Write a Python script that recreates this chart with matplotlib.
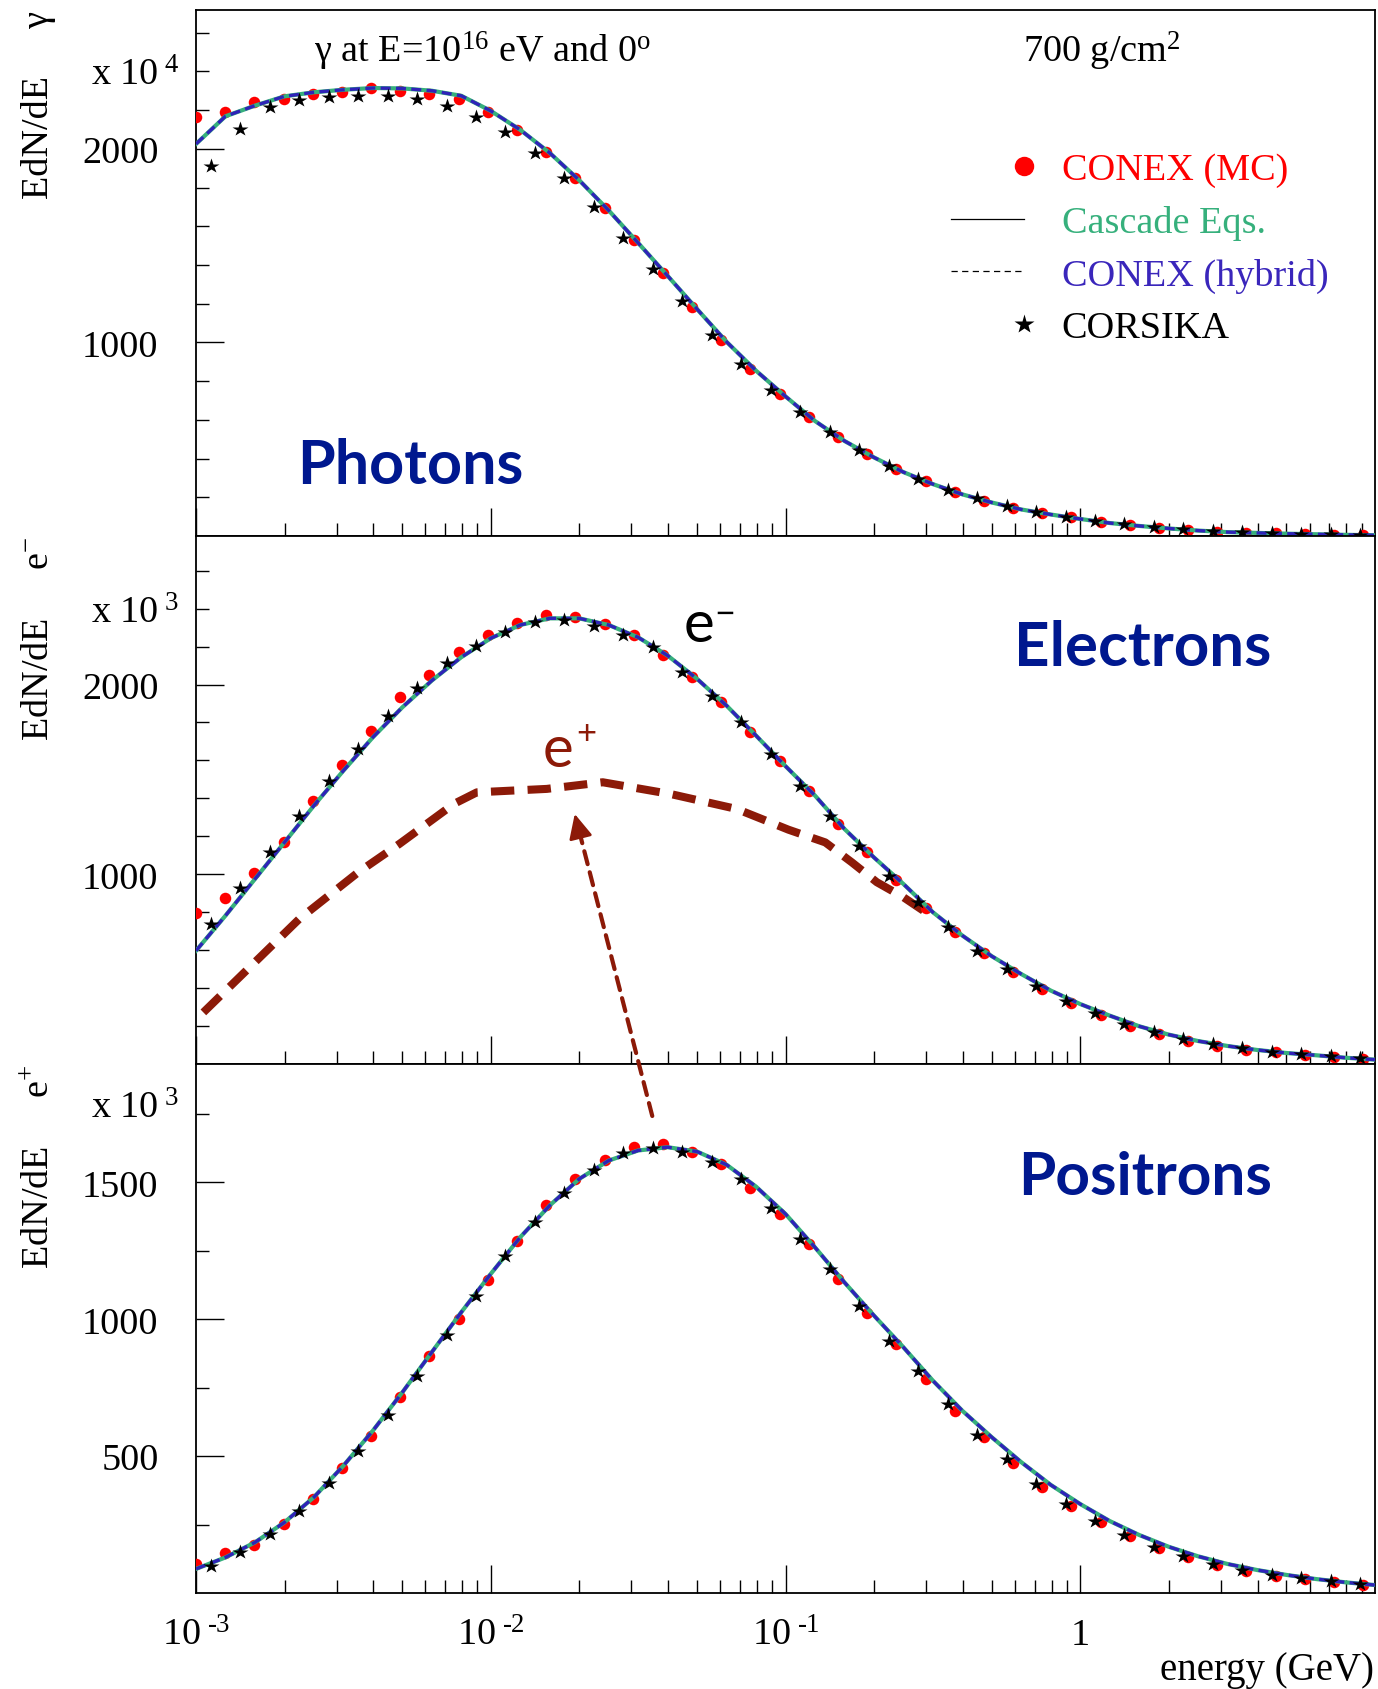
import numpy as np
import matplotlib
matplotlib.use("Agg")
import matplotlib.pyplot as plt
from matplotlib.lines import Line2D
from matplotlib.legend_handler import HandlerLine2DCompound
from matplotlib.patches import ConnectionPatch
from matplotlib.ticker import FixedLocator, LogLocator, FixedFormatter, NullFormatter

plt.rcParams['font.family'] = ['Liberation Serif', 'DejaVu Serif']
plt.rcParams['mathtext.fontset'] = 'custom'
plt.rcParams['mathtext.rm'] = 'Liberation Serif'
plt.rcParams['mathtext.it'] = 'Liberation Serif:italic'
plt.rcParams['mathtext.bf'] = 'Liberation Serif:bold'

# ---------------- data ----------------
E_CURVE = np.logspace(-3, 1, 41)          # cascade-equation grid (GeV)
E_MC = np.logspace(-3, 0.96, 41)          # CONEX (MC) bins
E_CORSIKA = np.logspace(-2.95, 0.95, 40)  # CORSIKA bins

GAMMA_CASCADE = [2025, 2168, 2223, 2271, 2292, 2305, 2314, 2312, 2300, 2274, 2196,
                 2098, 1979, 1838, 1682, 1514, 1344, 1172, 1003, 854, 721,
                 594, 491, 406, 330, 268, 215, 173, 137, 111, 88,
                 67, 52, 39, 28, 20, 16, 12, 9, 6, 4]
GAMMA_HYBRID = list(GAMMA_CASCADE)
GAMMA_MC = [2162, 2192, 2240, 2257, 2281, 2292, 2312, 2300, 2283, 2257, 2192,
            2097, 1985, 1847, 1696, 1529, 1357, 1181, 1012, 863, 733,
            616, 510, 424, 346, 282, 226, 183, 145, 117, 96,
            71, 57, 43, 31, 22, 17, 14, 10, 7, 5]
GAMMA_CORSIKA = [1913, 2102, 2214, 2252, 2266, 2274, 2271, 2257, 2219, 2166,
                 2085, 1977, 1851, 1701, 1539, 1379, 1212, 1038, 887, 754,
                 642, 535, 444, 363, 294, 239, 195, 153, 122, 100,
                 76, 60, 48, 36, 26, 21, 15, 12, 9, 7]

ELEC_CASCADE = [597, 782, 975, 1168, 1362, 1546, 1722, 1880, 2021, 2144, 2244,
                2314, 2349, 2349, 2314, 2249, 2153, 2030, 1889, 1731, 1570,
                1415, 1239, 1089, 949, 800, 677, 568, 474, 387, 316,
                255, 199, 155, 121, 95, 74, 58, 46, 33, 23]
ELEC_HYBRID = list(ELEC_CASCADE)
ELEC_MC = [794, 875, 1007, 1169, 1385, 1578, 1757, 1933, 2051, 2170, 2261,
           2323, 2367, 2355, 2319, 2261, 2156, 2042, 1907, 1752, 1595,
           1441, 1265, 1116, 972, 821, 694, 585, 483, 395, 322,
           258, 202, 158, 123, 97, 76, 62, 47, 35, 26]
ELEC_CORSIKA = [738, 926, 1116, 1309, 1494, 1660, 1836, 1980, 2112, 2205,
                2279, 2328, 2342, 2307, 2261, 2200, 2068, 1942, 1805, 1634,
                1467, 1309, 1147, 989, 852, 720, 597, 501, 409, 334,
                269, 211, 167, 132, 105, 83, 65, 51, 40, 30]

POS_CASCADE = [88, 130, 185, 258, 350, 465, 593, 733, 880, 1026, 1166,
               1300, 1416, 1513, 1580, 1617, 1629, 1613, 1565, 1485, 1385,
               1263, 1135, 1014, 898, 776, 666, 569, 478, 395, 325,
               263, 212, 169, 134, 106, 84, 66, 51, 39, 29]
POS_HYBRID = list(POS_CASCADE)
POS_MC = [106, 145, 177, 252, 344, 457, 575, 718, 867, 1001, 1145,
          1288, 1416, 1513, 1584, 1629, 1641, 1613, 1568, 1479, 1385,
          1276, 1148, 1023, 910, 782, 666, 569, 474, 386, 319,
          258, 207, 163, 130, 102, 82, 63, 51, 39, 29]
POS_CORSIKA = [97, 149, 216, 301, 402, 520, 651, 794, 941, 1084,
               1230, 1355, 1461, 1546, 1607, 1625, 1611, 1574, 1511, 1406,
               1294, 1184, 1050, 920, 810, 691, 577, 490, 398, 325,
               264, 212, 167, 134, 106, 85, 66, 54, 43, 33]

# hand-drawn e+ sketch overlaid on the electron panel
EPLUS_SKETCH_E = [10**-2.975, 10**-2.65, 10**-2.45, 10**-2.31, 10**-2.125, 10**-2.047,
                  10**-1.81, 10**-1.62, 10**-1.39, 10**-1.165, 10**-0.99, 10**-0.865,
                  10**-0.775, 10**-0.69, 10**-0.60, 10**-0.516]
EPLUS_SKETCH_V = [272, 764, 1010, 1160, 1371, 1432, 1450, 1485, 1423, 1344, 1235,
                  1168, 1063, 958, 879, 791]

XTICKS = [1e-3, 1e-2, 1e-1, 1]
XTICK_LABELS = [r'$\mathrm{10}^{\ \text{-3}}$', r'$\mathrm{10}^{\ \text{-2}}$',
                r'$\mathrm{10}^{\ \text{-1}}$', '1']

LEGEND_LABELS = ['CONEX (MC)', 'Cascade Eqs.', 'CONEX (hybrid)', 'CORSIKA']

# ---------------- style ----------------
RED = '#ff0000'
GREEN = '#36b07c'
BLUE = '#2f23b8'
DARKRED = '#8c1a08'
NAVY = '#00188f'
LEG_COLORS = [RED, GREEN, '#3a26bb', 'black']

W, H = 1378, 1690
fig = plt.figure(figsize=(W / 100, H / 100), dpi=100)


def px_axes(x0, y0, x1, y1):
    return fig.add_axes([x0 / W, 1 - y1 / H, (x1 - x0) / W, (y1 - y0) / H])


ax_top = px_axes(196, 11, 1375, 537)
ax_mid = px_axes(196, 537, 1375, 1065)
ax_bot = px_axes(196, 1065, 1375, 1594)

panels = [
    (ax_top, GAMMA_CASCADE, GAMMA_HYBRID, GAMMA_MC, GAMMA_CORSIKA, 2717,
     [1000, 2000], [v for v in range(200, 2800, 200) if v % 1000]),
    (ax_mid, ELEC_CASCADE, ELEC_HYBRID, ELEC_MC, ELEC_CORSIKA, 2783,
     [1000, 2000], [v for v in range(200, 2800, 200) if v % 1000]),
    (ax_bot, POS_CASCADE, POS_HYBRID, POS_MC, POS_CORSIKA, 1933,
     [500, 1000, 1500], [250, 750, 1250, 1750]),
]

for ax, cas, hyb, mc, cors, ymax, ymaj, ymin in panels:
    ax.set_xscale('log')
    ax.set_xlim(1e-3, 1e1)
    ax.set_ylim(0, ymax)
    ax.plot(E_MC, mc, ls='none', marker='o', color=RED, ms=8.3, mec='none', zorder=3)
    ax.plot(E_CURVE, cas, '-', color=GREEN, lw=3.0, zorder=4)
    ax.plot(E_CURVE, hyb, color=BLUE, lw=2.4, ls=(0, (3, 1.6)), zorder=5)
    ax.plot(E_CORSIKA, cors, ls='none', marker='*', color='black', ms=11.5, mec='none', zorder=6)

    ax.xaxis.set_major_locator(FixedLocator(XTICKS))
    ax.xaxis.set_minor_locator(LogLocator(base=10, subs=np.arange(2, 10), numticks=20))
    ax.xaxis.set_minor_formatter(NullFormatter())
    ax.yaxis.set_major_locator(FixedLocator(ymaj))
    ax.yaxis.set_minor_locator(FixedLocator(ymin))
    ax.tick_params(which='both', direction='in', top=False, right=False)
    ax.tick_params(which='major', length=20, width=1.0)
    ax.tick_params(which='minor', length=9.6, width=1.0)
    ax.tick_params(axis='y', labelsize=27.5, pad=27)
    for s in ax.spines.values():
        s.set_linewidth(1.3)
    if ax is ax_bot:
        ax.xaxis.set_major_formatter(FixedFormatter(XTICK_LABELS))
        ax.tick_params(axis='x', labelsize=27.5, pad=37)
    else:
        ax.xaxis.set_major_formatter(NullFormatter())

for lbl in ax_bot.get_xticklabels():
    lbl.set_verticalalignment('baseline')

# e+ sketch on the electron panel
ax_mid.plot(EPLUS_SKETCH_E, EPLUS_SKETCH_V, color=DARKRED, lw=5.8,
            ls=(0, (2.9, 1.65)), zorder=2, solid_capstyle='butt')

# arrow from positron peak to sketch
TIP = (10**-1.715, 1318)       # in electron panel data coords
TAIL = (10**-1.452, 1743)      # in positron panel data coords
con = ConnectionPatch(xyA=TAIL, coordsA=ax_bot.transData, xyB=TIP, coordsB=ax_mid.transData,
                      arrowstyle='-', color=DARKRED, lw=3.0, linestyle=(0, (3.2, 2.0)),
                      shrinkA=0, shrinkB=12, zorder=7)
fig.add_artist(con)
ax_mid.annotate('', xy=TIP, xycoords='data', xytext=(3.0, -12), textcoords='offset points',
                arrowprops=dict(arrowstyle='-|>,head_length=0.75,head_width=0.36',
                                color=DARKRED, lw=2.0, mutation_scale=20,
                                shrinkA=0, shrinkB=0), zorder=8)

# ---------------- texts ----------------
serif = 'Liberation Serif'
ax_top.text(0.2434, 0.902, r'γ at E=10$^{16}$ eV and 0$^{\mathrm{o}}$', transform=ax_top.transAxes,
            ha='center', va='baseline', fontsize=27.5, family=serif)
ax_top.text(0.7014, 0.902, r'700 g/cm$^{2}$', transform=ax_top.transAxes,
            ha='left', va='baseline', fontsize=27.5, family=serif)

sans = ['Lato', 'DejaVu Sans']
ax_top.text(0.0857, 0.1008, 'Photons', transform=ax_top.transAxes, ha='left', va='baseline',
            fontsize=44, fontweight='bold', family=sans, color=NAVY)
ax_mid.text(0.6938, 0.7557, 'Electrons', transform=ax_mid.transAxes, ha='left', va='baseline',
            fontsize=44.5, fontweight='bold', family=sans, color=NAVY)
ax_bot.text(0.6972, 0.7543, 'Positrons', transform=ax_bot.transAxes, ha='left', va='baseline',
            fontsize=43.5, fontweight='bold', family=sans, color=NAVY)

ax_mid.text(0.4138, 0.8017, 'e', transform=ax_mid.transAxes, ha='left', va='baseline',
            fontsize=42, family=sans, color='black')
ax_mid.text(0.4482, 0.8328, '\u2212', transform=ax_mid.transAxes, ha='center', va='baseline',
            fontsize=26, family=sans, color='black')
ax_mid.text(0.2940, 0.5650, 'e', transform=ax_mid.transAxes, ha='left', va='baseline',
            fontsize=42, family=sans, color=DARKRED)
ax_mid.text(0.3308, 0.6080, '+', transform=ax_mid.transAxes, ha='center', va='baseline',
            fontsize=25, family=sans, color=DARKRED)

# multipliers
for ybase, exp in [(86, '4'), (623, '3'), (1119, '3')]:
    fig.text(91 / W, 1 - ybase / H, r'x 10$^{\ %s}$' % exp, ha='left', va='baseline',
             fontsize=27.5, family=serif)

# y titles
for ytop, lab in [(11, 'EdN/dE     γ'), (537, r'EdN/dE     e$^{-}$'), (1065, r'EdN/dE     e$^{+}$')]:
    fig.text(39 / W, 1 - ytop / H, lab, rotation=90, ha='center', va='top', fontsize=27.5, family=serif)

fig.text(1374 / W, 1 - 1680 / H, 'energy (GeV)', ha='right', va='baseline', fontsize=28, family=serif)

# ---------------- legend ----------------
class HandlerMarkerRight(HandlerLine2DCompound):
    def get_xdata(self, legend, xdescent, ydescent, width, height, fontsize):
        xdata, _ = super().get_xdata(legend, xdescent, ydescent, width, height, fontsize)
        return xdata, np.array([-xdescent + width])


handles = [Line2D([], [], ls='none', marker='o', color=RED, ms=14, mec='none'),
           Line2D([], [], color='black', lw=0.9),
           Line2D([], [], color='black', lw=0.9, ls=(0, (5, 3.5))),
           Line2D([], [], ls='none', marker='*', color='black', ms=15, mec='none')]
ax_top.legend(handles, LEGEND_LABELS, loc='upper left',
              bbox_to_anchor=((951 - 196) / 1179, (537 - 153.5) / 526),
              frameon=False, prop=dict(family=serif, size=27.5), handlelength=1.9,
              handletextpad=1.0, labelspacing=0.46, borderpad=0, borderaxespad=0,
              labelcolor=LEG_COLORS, handler_map={Line2D: HandlerMarkerRight(numpoints=1)})

fig.savefig('out.png', dpi=100)
